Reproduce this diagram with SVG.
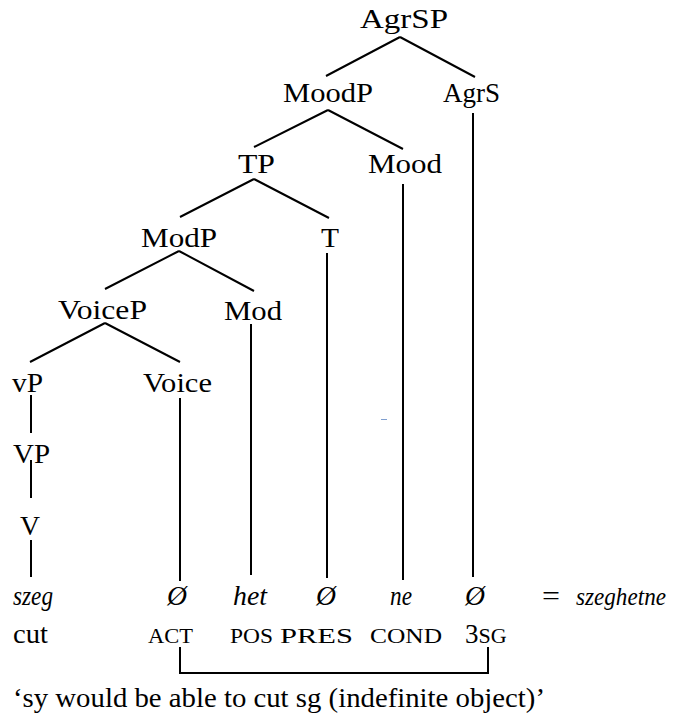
<svg xmlns="http://www.w3.org/2000/svg" width="674" height="726" viewBox="0 0 674 726">
<style>
text{font-family:"Liberation Serif","Times New Roman",serif;font-size:27px;fill:#000}
.i{font-style:italic}
.sc{font-size:22px}
.e{stroke:#000;stroke-width:2;fill:none}
</style>
<rect width="674" height="726" fill="#fff"/>
<g id="connectors" class="e">
<path d="M400 37L326 76M400 37L475 77"/>
<path d="M473 113V577"/>
<path d="M328 110L254 147M328 110L403 149"/>
<path d="M403 184V580"/>
<path d="M254 179L180 217M254 179L329 218"/>
<path d="M327 253V578"/>
<path d="M179 251L105 289M179 251L254 291"/>
<path d="M251 324V575"/>
<path d="M105 323L30 362M105 323L180 362"/>
<path d="M180 398V581"/>
<path d="M31 395V433M31 460V498M31 540V577"/>
<path d="M180 647V673H488V647"/>
</g>
<line x1="381" y1="419.5" x2="387" y2="419.5" stroke="#7f9fcf" stroke-width="1"/>
<g id="AgrSP"><text x="360" y="28" textLength="88" lengthAdjust="spacingAndGlyphs">AgrSP</text></g>
<g id="MoodP"><text x="283" y="102" textLength="90" lengthAdjust="spacingAndGlyphs">MoodP</text></g>
<g id="AgrS"><text x="443" y="102" textLength="57" lengthAdjust="spacingAndGlyphs">AgrS</text></g>
<g id="TP"><text x="238" y="173" textLength="37" lengthAdjust="spacingAndGlyphs">TP</text></g>
<g id="Mood"><text x="368" y="173" textLength="74" lengthAdjust="spacingAndGlyphs">Mood</text></g>
<g id="ModP"><text x="141" y="247" textLength="76" lengthAdjust="spacingAndGlyphs">ModP</text></g>
<g id="T"><text x="321" y="247" textLength="18" lengthAdjust="spacingAndGlyphs">T</text></g>
<g id="VoiceP"><text x="58" y="319" textLength="89" lengthAdjust="spacingAndGlyphs">VoiceP</text></g>
<g id="Mod"><text x="224" y="320" textLength="58" lengthAdjust="spacingAndGlyphs">Mod</text></g>
<g id="vP"><text x="12" y="392" textLength="31" lengthAdjust="spacingAndGlyphs">vP</text></g>
<g id="Voice"><text x="143" y="392" textLength="69" lengthAdjust="spacingAndGlyphs">Voice</text></g>
<g id="VP"><text x="13" y="463" textLength="37" lengthAdjust="spacingAndGlyphs">VP</text></g>
<g id="V"><text x="20" y="535" textLength="20" lengthAdjust="spacingAndGlyphs">V</text></g>
<g id="forms">
<text class="i" x="13" y="605" textLength="40" lengthAdjust="spacingAndGlyphs">szeg</text>
<text class="i" x="167" y="605" textLength="20" lengthAdjust="spacingAndGlyphs">Ø</text>
<text class="i" x="233" y="605" textLength="34" lengthAdjust="spacingAndGlyphs">het</text>
<text class="i" x="316" y="605" textLength="20" lengthAdjust="spacingAndGlyphs">Ø</text>
<text class="i" x="390" y="605" textLength="22" lengthAdjust="spacingAndGlyphs">ne</text>
<text class="i" x="465" y="605" textLength="20" lengthAdjust="spacingAndGlyphs">Ø</text>
<text x="542" y="605" textLength="18" lengthAdjust="spacingAndGlyphs">=</text>
<text class="i" x="576" y="605" font-size="25" textLength="90" lengthAdjust="spacingAndGlyphs" style="font-size:25px">szeghetne</text>
</g>
<g id="glosses">
<text x="13" y="643" textLength="35" lengthAdjust="spacingAndGlyphs">cut</text>
<text class="sc" x="148" y="643" textLength="45" lengthAdjust="spacingAndGlyphs">ACT</text>
<text class="sc" x="230" y="643" textLength="43" lengthAdjust="spacingAndGlyphs">POS</text>
<text class="sc" x="280" y="643" textLength="73" lengthAdjust="spacingAndGlyphs">PRES</text>
<text class="sc" x="370" y="643" textLength="72" lengthAdjust="spacingAndGlyphs">COND</text>
<text x="465" y="643"><tspan>3</tspan><tspan class="sc">SG</tspan></text>
</g>
<g id="translation"><text x="13" y="707" textLength="532" lengthAdjust="spacingAndGlyphs">‘sy would be able to cut sg (indefinite object)’</text></g>
</svg>
